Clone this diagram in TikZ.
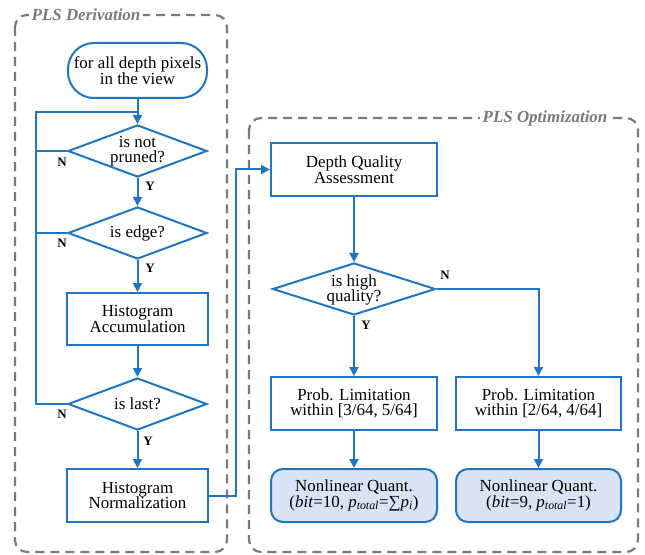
\documentclass[tikz,border=0pt]{standalone}
\usepackage{fontspec}
\setmainfont{Liberation Serif}
\usetikzlibrary{shapes.geometric,arrows.meta}
\definecolor{fblue}{HTML}{1F75C3}
\definecolor{fgray}{HTML}{7A7A7A}
\definecolor{qfill}{HTML}{DAE3F3}
\begin{document}
\begin{tikzpicture}[x=1bp,y=-1bp,
  every node/.style={font=\fontsize{17}{15.5}\selectfont, align=center},
  flow/.style={draw=fblue, line width=2bp},
  boxnode/.style={flow, rectangle, inner sep=0pt},
  dnode/.style={flow, diamond, inner sep=0pt, minimum width=139bp, minimum height=52bp},
  qnode/.style={flow, rectangle, rounded corners=12bp, fill=qfill, inner sep=0pt, minimum width=166bp, minimum height=53bp},
  conn/.style={fblue, line width=2bp},
  arr/.style={conn, -{Triangle[length=9bp,width=9bp]}},
  yn/.style={font=\fontsize{13}{13}\selectfont\bfseries},
  frame/.style={draw=fgray, line width=2.2bp, dash pattern=on 9bp off 6bp, rounded corners=12bp},
  title/.style={font=\fontsize{17}{17}\selectfont\bfseries\itshape, text=fgray, fill=white, inner sep=3bp}
]
\useasboundingbox (0,0) rectangle (645,555);
% frames
\draw[frame] (15,15) rectangle (227,552);
\draw[frame] (249,118) rectangle (638,552);
\node[title] (t1) at (86,15) {PLS Derivation};
\node[title] (t2) at (545,118) {PLS Optimization};

% left column
\node[flow, rounded corners=26bp, minimum width=139bp, minimum height=55bp, inner sep=0pt] (start) at (137.5,70.5) {for all depth pixels\\in the view};
\node[dnode] (d1) at (137.5,151) {};
\node (d1t) at (d1) {is not\\pruned?};
\node[dnode] (d2) at (137.5,233) {};
\node (d2t) at (d2) {is edge?};
\node[boxnode, minimum width=141bp, minimum height=52bp] (acc) at (137.5,319) {Histogram\\Accumulation};
\node[dnode] (d3) at (137.5,404) {};
\node (d3t) at (d3) {is last?};
\node[boxnode, minimum width=141bp, minimum height=53bp] (norm) at (137.5,495.5) {Histogram\\Normalization};

\coordinate (lp) at (36,112);
\coordinate (lt) at (137.5,112);
\coordinate (j1) at (36,151);
\coordinate (j2) at (36,233);
\coordinate (lb) at (36,404);

\draw[arr] (start) -- (d1);
\draw[arr] (d1) -- (d2);
\draw[arr] (d2) -- (acc);
\draw[arr] (acc) -- (d3);
\draw[arr] (d3) -- (norm);
\draw[conn] (d3.west) -- (lb) -- (lp) -- (lt);
\draw[conn] (d1.west) -- (j1);
\draw[conn] (d2.west) -- (j2);

\node[yn] (y1) at (150,186) {Y};
\node[yn] (y2) at (150,268) {Y};
\node[yn] (y3) at (148,441) {Y};
\node[yn] (n1) at (62,162) {N};
\node[yn] (n2) at (62,243) {N};
\node[yn] (n3) at (62,414) {N};

% right part
\node[boxnode, minimum width=166bp, minimum height=53bp] (dqa) at (354,169.5) {Depth Quality\\Assessment};
\node[dnode, minimum width=163bp] (d4) at (354,289) {};
\node (d4t) at (354,290) {is high\\quality?};
\node[boxnode, minimum width=166bp, minimum height=53bp] (pl) at (354,403.5) {Prob. Limitation\\within [3/64, 5/64]};
\node[boxnode, minimum width=165bp, minimum height=53bp] (pr) at (538.5,403.5) {Prob. Limitation\\within [2/64, 4/64]};
\node[qnode] (ql) at (354,495.5) {Nonlinear Quant.\\(\textit{bit}=10, \textit{p}\textsubscript{\textit{total}}=∑\textit{p}\textsubscript{\textit{i}})};
\node[qnode, minimum width=165bp] (qr) at (538.5,495.5) {Nonlinear Quant.\\(\textit{bit}=9, \textit{p}\textsubscript{\textit{total}}=1)};

\coordinate (c1) at (236,495.5);
\draw[arr] (norm.east) -- (c1) |- (dqa.west);
\draw[arr] (dqa) -- (d4);
\draw[arr] (d4) -- (pl);
\draw[arr] (d4.east) -| (pr.north);
\draw[arr] (pl) -- (ql);
\draw[arr] (pr) -- (qr);
\node[yn] (y4) at (366,325) {Y};
\node[yn] (n4) at (445,275) {N};
\end{tikzpicture}
\end{document}
